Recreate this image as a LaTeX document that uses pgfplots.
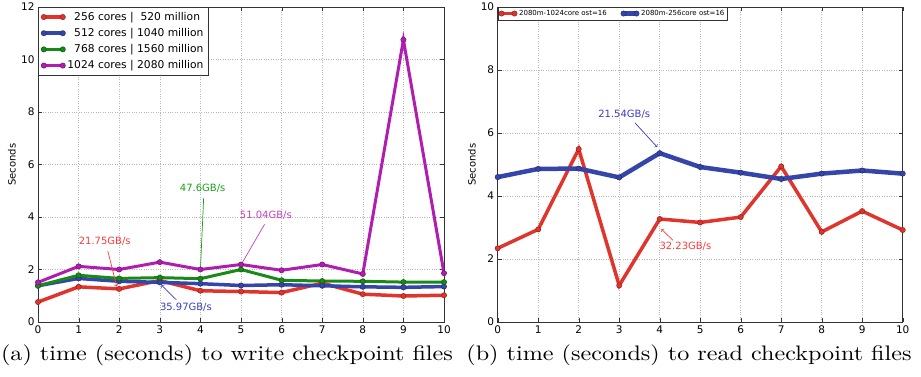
\documentclass[border=0pt]{standalone}
\usepackage{pgfplots}
\pgfplotsset{compat=1.18}
\usepackage{fontspec}
\newfontfamily\dejavu{DejaVu Sans}
\newfontfamily\capfont{lmroman10-regular.otf}
\definecolor{cR}{HTML}{E0352C}
\definecolor{cB}{HTML}{3545AA}
\definecolor{cG}{HTML}{178A17}
\definecolor{cM}{HTML}{B01EB0}
\definecolor{tR}{HTML}{FF3A3A}
\definecolor{tB}{HTML}{3C3CC0}
\definecolor{tG}{HTML}{18A018}
\definecolor{tM}{HTML}{C040C0}
\pgfplotsset{
  common/.style={
    scale only axis,
    xmin=0, xmax=10, ymin=0,
    xtick={0,1,...,10},
    grid=major,
    grid style={dotted, gray!55, line width=0.5pt},
    axis line style={black!80, line width=0.8pt},
    tick align=inside, tick pos=both,
    major tick length=4pt,
    tick style={black!80},
    tick label style={font=\dejavu\fontsize{10.5}{12}\selectfont},
    /pgf/number format/assume math mode=true,
    ylabel={Seconds},
    ylabel style={font=\dejavu\fontsize{10}{12}\selectfont, at={(axis description cs:-0.064,0.5)}, anchor=center},
    legend cell align=left,
    legend image code/.code={\draw[mark repeat=1,mark phase=1,#1] plot coordinates {(0pt,0pt) (19pt,0pt)};},
  },
  ser/.style={color=#1, mark=*, mark size=2.6pt, mark options={fill=#1, draw=#1!70!black, line width=0.6pt}},
}
\begin{document}
\begin{tikzpicture}
\useasboundingbox (0,0) rectangle (921pt,377pt);
\begin{axis}[common,
  at={(38pt,55pt)}, anchor=south west,
  width=406pt, height=315pt,
  ymax=12, ytick={0,2,...,12},
  legend style={at={(axis description cs:0,1)}, anchor=north west, draw=black!80,
    font=\dejavu\fontsize{10.7}{12.5}\selectfont, row sep=2.5pt, inner sep=3pt,
    legend cell align=left},
]
\addplot[ser=cR, line width=3.5pt] coordinates {(0,0.76) (1,1.34) (2,1.26) (3,1.58) (4,1.19) (5,1.16) (6,1.12) (7,1.48) (8,1.06) (9,0.99) (10,1.02)};
\addlegendentry{\ \ 256 cores \textbar\ \ 520 million}
\addplot[ser=cB, line width=3.5pt] coordinates {(0,1.38) (1,1.66) (2,1.55) (3,1.51) (4,1.46) (5,1.39) (6,1.42) (7,1.38) (8,1.34) (9,1.32) (10,1.35)};
\addlegendentry{\ \ 512 cores \textbar\ 1040 million}
\addplot[ser=cG, line width=3pt] coordinates {(0,1.38) (1,1.78) (2,1.66) (3,1.69) (4,1.65) (5,2.0) (6,1.59) (7,1.56) (8,1.55) (9,1.52) (10,1.52)};
\addlegendentry{\ \ 768 cores \textbar\ 1560 million}
\addplot[ser=cM, line width=3pt] coordinates {(0,1.51) (1,2.12) (2,2.0) (3,2.28) (4,2.0) (5,2.19) (6,1.97) (7,2.19) (8,1.83) (9,10.75) (10,1.86)};
\addlegendentry{1024 cores \textbar\ 2080 million}
\draw[->, tR, line width=0.7pt] (axis cs:1.72,2.7) -- (axis cs:1.94,1.35);
\node[anchor=west, text=tR, font=\dejavu\fontsize{10}{12}\selectfont, inner sep=0pt] at (axis cs:1.0,3.08) {21.75GB/s};
\draw[->, tG, line width=0.7pt] (axis cs:4.08,4.72) -- (axis cs:4.0,1.98);
\node[anchor=west, text=tG, font=\dejavu\fontsize{10}{12}\selectfont, inner sep=0pt] at (axis cs:3.49,5.1) {47.6GB/s};
\draw[->, tM, line width=0.7pt] (axis cs:5.58,3.72) -- (axis cs:4.99,2.15);
\node[anchor=west, text=tM, font=\dejavu\fontsize{10}{12}\selectfont, inner sep=0pt] at (axis cs:4.97,4.08) {51.04GB/s};
\draw[->, tB, line width=0.7pt] (axis cs:3.41,0.84) -- (axis cs:3.04,1.41);
\node[anchor=west, text=tB, font=\dejavu\fontsize{10}{12}\selectfont, inner sep=0pt] at (axis cs:3.0,0.58) {35.97GB/s};
\end{axis}
\begin{axis}[common,
  at={(497.7pt,55pt)}, anchor=south west,
  width=405pt, height=315pt,
  ymax=10, ytick={0,2,...,10},
  legend columns=2,
  legend style={at={(axis description cs:0,1)}, anchor=north west, draw=black!80,
    font=\dejavu\fontsize{7}{8}\selectfont, inner sep=1pt,
    /tikz/every even column/.append style={column sep=12pt}},
  legend image code/.code={\draw[mark repeat=1,mark phase=1,#1] plot coordinates {(0pt,0pt) (13pt,0pt)};},
]
\addplot[ser=cR, line width=3.5pt] coordinates {(0,2.34) (1,2.94) (2,5.49) (3,1.16) (4,3.27) (5,3.16) (6,3.33) (7,4.94) (8,2.86) (9,3.52) (10,2.92)};
\addlegendentry{2080m-1024core ost=16}
\addplot[ser=cB, line width=4.5pt] coordinates {(0,4.60) (1,4.86) (2,4.87) (3,4.59) (4,5.36) (5,4.92) (6,4.74) (7,4.54) (8,4.71) (9,4.81) (10,4.71)};
\addlegendentry{2080m-256core ost=16}
\draw[->, tB, line width=0.7pt] (axis cs:3.39,6.32) -- (axis cs:3.94,5.55);
\node[anchor=west, text=tB, font=\dejavu\fontsize{10}{12}\selectfont, inner sep=0pt] at (axis cs:2.48,6.6) {21.54GB/s};
\draw[->, tR, line width=0.7pt] (axis cs:4.33,2.59) -- (axis cs:4.04,2.95);
\node[anchor=west, text=tR, font=\dejavu\fontsize{10}{12}\selectfont, inner sep=0pt] at (axis cs:3.99,2.42) {32.23GB/s};
\end{axis}
\node[font=\capfont\fontsize{21}{25}\selectfont, inner sep=0pt, xscale=1.15] at (227pt,22pt) {(a) time (seconds) to write checkpoint files};
\node[font=\capfont\fontsize{21}{25}\selectfont, inner sep=0pt, xscale=1.15] at (689pt,22pt) {(b) time (seconds) to read checkpoint files};
\end{tikzpicture}
\end{document}
